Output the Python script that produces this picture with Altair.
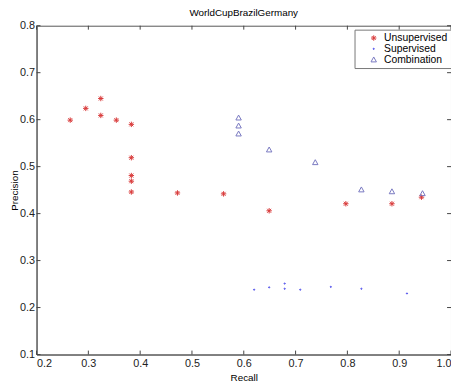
import altair as alt
import pandas as pd

unsup_recall = [0.265, 0.295, 0.324, 0.324, 0.354, 0.383, 0.383, 0.383, 0.383, 0.383, 0.472, 0.561, 0.649, 0.797, 0.886, 0.943]
unsup_prec = [0.599, 0.624, 0.645, 0.609, 0.599, 0.590, 0.519, 0.481, 0.469, 0.446, 0.444, 0.442, 0.406, 0.421, 0.421, 0.435]

sup_recall = [0.620, 0.649, 0.679, 0.679, 0.709, 0.768, 0.827, 0.915]
sup_prec = [0.238, 0.243, 0.251, 0.240, 0.238, 0.244, 0.240, 0.230]

comb_recall = [0.590, 0.590, 0.590, 0.649, 0.738, 0.827, 0.886, 0.945]
comb_prec = [0.604, 0.587, 0.570, 0.536, 0.509, 0.451, 0.447, 0.443]

x_ticks = [0.2, 0.3, 0.4, 0.5, 0.6, 0.7, 0.8, 0.9, 1.0]
y_ticks = [0.1, 0.2, 0.3, 0.4, 0.5, 0.6, 0.7, 0.8]

series = ["Unsupervised", "Supervised", "Combination"]

rows = []
for r, p in zip(unsup_recall, unsup_prec):
    rows.append({"Recall": r, "Precision": p, "series": "Unsupervised"})
for r, p in zip(sup_recall, sup_prec):
    rows.append({"Recall": r, "Precision": p, "series": "Supervised"})
for r, p in zip(comb_recall, comb_prec):
    rows.append({"Recall": r, "Precision": p, "series": "Combination"})
df = pd.DataFrame(rows)

W, H = 421, 334
xs = alt.Scale(domain=[0.2, 1.0], nice=False, zero=False)
ys = alt.Scale(domain=[0.1, 0.8], nice=False, zero=False)

asterisk = "M-0.55,0L0.55,0M0,-0.55L0,0.55M-0.4,-0.4L0.4,0.4M-0.4,0.4L0.4,-0.4"
dot = "M-0.12,0A0.12,0.12,0,1,0,0.12,0A0.12,0.12,0,1,0,-0.12,0Z"
tri = "M0,-0.55L0.55,0.45L-0.55,0.45Z"

points = alt.Chart(df).mark_point(filled=False, strokeWidth=1, opacity=1, size=100).encode(
    x=alt.X("Recall:Q", scale=xs, axis=alt.Axis(values=x_ticks, format=".1f", title="Recall")),
    y=alt.Y("Precision:Q", scale=ys, axis=alt.Axis(values=y_ticks, format=".1f", title="Precision")),
    color=alt.Color("series:N", scale=alt.Scale(domain=series, range=["#d83a3a", "#3535e8", "#7878c0"]),
                    legend=alt.Legend(title=None, orient="none", legendX=323, legendY=4,
                                      strokeColor="#777", fillColor="white", padding=3,
                                      labelFontSize=10.5, labelFont="Liberation Sans",
                                      symbolStrokeWidth=1, symbolSize=100, symbolOffset=11,
                                      labelOffset=5, rowPadding=0, labelColor="#000")),
    shape=alt.Shape("series:N", scale=alt.Scale(domain=series, range=[asterisk, dot, tri]),
                    legend=alt.Legend(title=None, orient="none", legendX=323, legendY=4)),
)

xt = pd.DataFrame({"v": x_ticks})
yt = pd.DataFrame({"v": y_ticks})
tick_color = "#444"
xb = alt.Chart(xt).mark_rule(color=tick_color).encode(x=alt.X("v:Q", scale=xs), y=alt.value(H), y2=alt.value(H - 4))
xtop = alt.Chart(xt).mark_rule(color=tick_color).encode(x=alt.X("v:Q", scale=xs), y=alt.value(0), y2=alt.value(4))
yl = alt.Chart(yt).mark_rule(color=tick_color).encode(y=alt.Y("v:Q", scale=ys), x=alt.value(0), x2=alt.value(4))
yr = alt.Chart(yt).mark_rule(color=tick_color).encode(y=alt.Y("v:Q", scale=ys), x=alt.value(W), x2=alt.value(W - 4))

chart = alt.layer(xb, xtop, yl, yr, points).properties(
    width=W, height=H,
    title=alt.TitleParams("WorldCupBrazilGermany", fontSize=10, fontWeight="normal",
                          font="Liberation Sans", offset=2, color="#000"),
    autosize=alt.AutoSizeParams(type="none"),
    padding={"left": 29, "top": 15, "right": 0, "bottom": 30},
).configure_view(stroke="#555", strokeWidth=1).configure_axis(
    grid=False, ticks=False, domainColor="#555", labelFont="Liberation Sans", labelFontSize=11,
    labelColor="#222", titleFont="Liberation Sans", titleFontSize=10, titleFontWeight="normal",
    titleColor="#000", labelPadding=3,
).configure_axisX(titlePadding=4).configure_axisY(titlePadding=0, labelPadding=2)

chart.save("out.html", embed_options={"renderer": "svg", "actions": False})
